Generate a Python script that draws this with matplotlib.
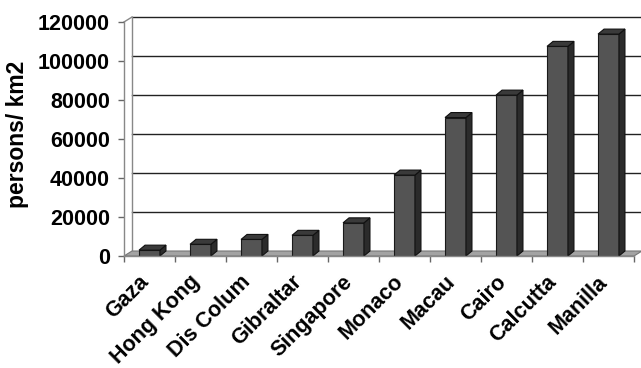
import matplotlib.pyplot as plt
from matplotlib.patches import Polygon

cities = ['Gaza', 'Hong Kong', 'Dis Colum', 'Gibraltar', 'Singapore',
          'Monaco', 'Macau', 'Cairo', 'Calcutta', 'Manilla']
density = [3000, 6000, 8500, 10600, 17000, 41500, 71000, 82500, 107500, 113800]
yticks = [0, 20000, 40000, 60000, 80000, 100000, 120000]

plt.rcParams['font.family'] = ['Liberation Sans', 'DejaVu Sans']
plt.rcParams['font.weight'] = 'bold'

W, H = 641, 368
fig = plt.figure(figsize=(W / 100, H / 100), dpi=100)
# front plane of the 3d box, in pixels
x0, x1, yb, yt = 124, 634, 256, 22
ax = fig.add_axes([x0 / W, 1 - yb / H, (x1 - x0) / W, (yb - yt) / H])
ax.set_xlim(-0.5, len(cities) - 0.5)
ax.set_ylim(0, 120000)
for s in ax.spines.values():
    s.set_visible(False)

cat_px = (x1 - x0) / len(cities)
val_px = 120000 / (yb - yt)
# depth offsets (wall and bar)
wdx, wdy = 8 / cat_px, 5 * val_px
bdx, bdy = 6 / cat_px, 5 * val_px
n = len(cities)
L, R = -0.5, n - 0.5

# floor
ax.add_patch(Polygon([(L, 0), (R, 0), (R + wdx, wdy), (L + wdx, wdy)],
                     closed=True, fc='#a3a3a3', ec='#777777', lw=0.8,
                     clip_on=False, zorder=1))
# back wall gridlines
for v in yticks[1:]:
    ax.plot([L + wdx, R + wdx], [v + wdy, v + wdy], color='#222222',
            lw=1.0, clip_on=False, zorder=0.5)
ax.plot([L + wdx, L + wdx], [wdy, 120000 + wdy], color='#888888', lw=1.0,
        clip_on=False, zorder=0.5)
ax.plot([L, L + wdx], [120000, 120000 + wdy], color='#888888', lw=1.0,
        clip_on=False, zorder=0.5)

# bars: front face through ax.bar, side/top faces added as polygons
bw = 0.41
bars = ax.bar(range(n), density, width=bw, color='#545454',
              edgecolor='#1a1a1a', linewidth=0.8, zorder=3)
for b in bars:
    xl = b.get_x()
    xr = xl + b.get_width()
    h = b.get_height()
    ax.add_patch(Polygon([(xr, 0), (xr + bdx, bdy), (xr + bdx, h + bdy), (xr, h)],
                         closed=True, fc='#2b2b2b', ec='#111111', lw=0.8, zorder=3))
    ax.add_patch(Polygon([(xl, h), (xr, h), (xr + bdx, h + bdy), (xl + bdx, h + bdy)],
                         closed=True, fc='#3a3a3a', ec='#111111', lw=0.8, zorder=3))

# front axes lines
ax.plot([L, L], [0, 120000], color='#888888', lw=1.0, clip_on=False, zorder=4)
ax.plot([L, R], [0, 0], color='#888888', lw=1.0, clip_on=False, zorder=4)

ax.set_yticks(yticks)
ax.set_yticklabels([str(v) for v in yticks])
ax.tick_params(axis='y', length=4, width=1, color='#666666', pad=6,
               labelsize=15.5)
ax.set_xticks([i - 0.5 for i in range(n + 1)], minor=False)
ax.set_xticklabels([''] * (n + 1))
ax.tick_params(axis='x', length=4, width=1, color='#666666', direction='out')
for i, c in enumerate(cities):
    ax.text(i - 0.22, -8000, c, rotation=45, ha='right', va='top',
            rotation_mode='anchor', fontsize=15.5, fontweight='bold',
            transform=ax.transData, clip_on=False)

ax.set_ylabel('persons/ km2', fontsize=16.5, fontweight='bold')
ax.yaxis.set_label_coords(-0.186, 0.52)

fig.savefig('out.png', dpi=100)
